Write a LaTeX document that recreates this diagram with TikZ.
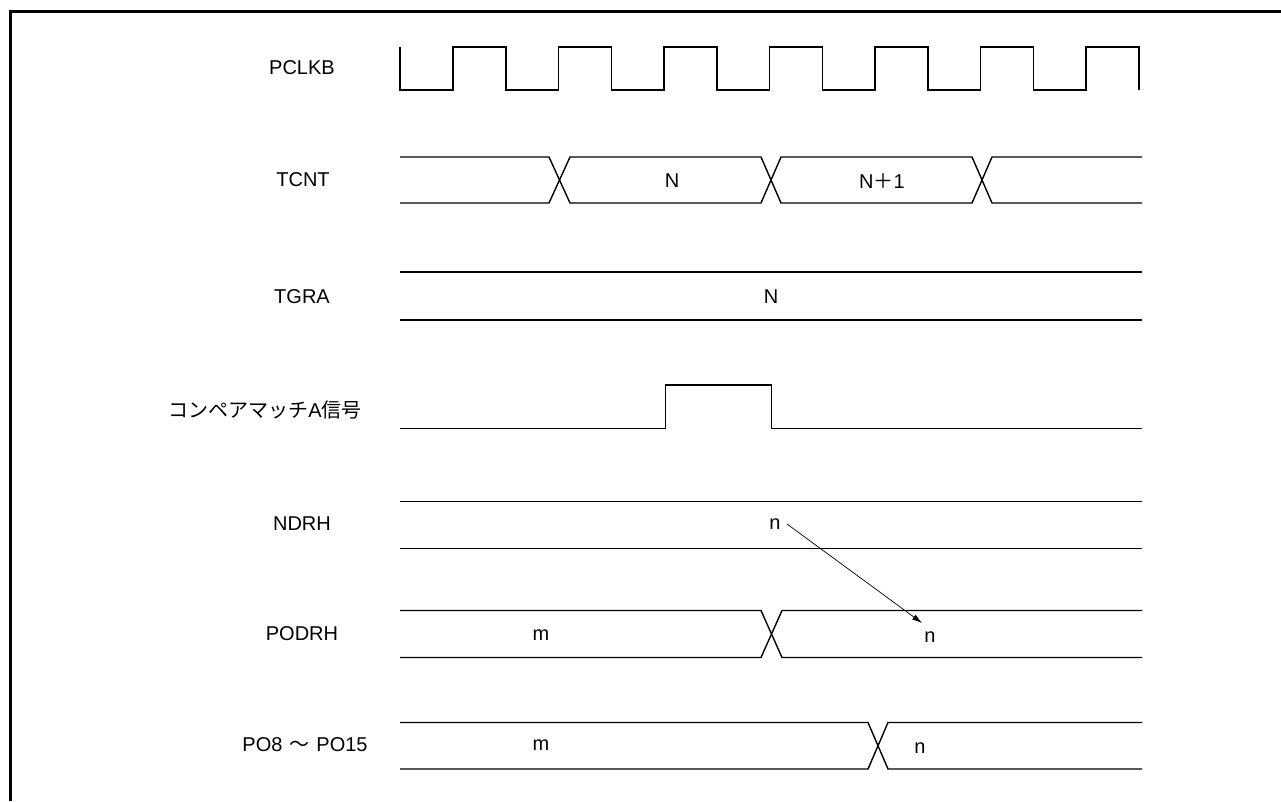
\documentclass[tikz,border=0pt]{standalone}
\usepackage{fontspec}
\setmainfont{Liberation Sans}
\newfontfamily\jp{Noto Sans CJK JP}
\usetikzlibrary{arrows.meta}
\begin{document}
\begin{tikzpicture}[x=1pt,y=-1pt,
  sig/.style={line width=1.4pt, line join=miter},
  frame/.style={line width=3pt},
  lbl/.style={font=\fontsize{20}{22}\selectfont, inner sep=0pt, anchor=center},
  val/.style={font=\fontsize{20}{22}\selectfont, inner sep=0pt, anchor=center},
  conn/.style={line width=0.7pt, -{Latex[length=10pt,width=6pt]}}]
\useasboundingbox (0,0) rectangle (1281,801);
% frame
\draw[frame] (10.5,801) -- (10.5,11.5) -- (1281,11.5);

% signal names
\node[lbl] (lPCLKB) at (302,68) {PCLKB};
\node[lbl] (lTCNT)  at (303,180) {TCNT};
\node[lbl] (lTGRA)  at (302,297) {TGRA};
\node[lbl] (lCMA)   at (265,410) {\jp コンペアマッチ\rmfamily A\jp 信号};
\node[lbl] (lNDRH)  at (302,524) {NDRH};
\node[lbl] (lPODRH) at (302,634) {PODRH};
\node[lbl] (lPO)    at (305,745) {PO8\hspace{0.35em}{\jp ～}\hspace{0.35em}PO15};

% PCLKB
\draw[sig] (400,47) -- (400,90)
  \foreach \k in {0,...,6} {
    -- ({453+\k*105.5},90) -- ({453+\k*105.5},47)
    -- ({506+\k*105.5},47) -- ({506+\k*105.5},90) };

% TCNT
\draw[sig] (400,157) -- (549,157) -- (570,203) -- (761,203) -- (781,157) -- (972,157) -- (992,203) -- (1142,203);
\draw[sig] (400,203) -- (549,203) -- (570,157) -- (761,157) -- (781,203) -- (972,203) -- (992,157) -- (1142,157);
\node[val] (vTN)  at (672,181) {N};
\node[val] (vTN1) at (882,181) {N{\jp ＋}1};

% TGRA
\draw[sig] (400,272) -- (1142,272);
\draw[sig] (400,320) -- (1142,320);
\node[val] (vGN) at (771,297) {N};

% compare match A
\draw[sig] (400,428.5) -- (665.5,428.5) -- (665.5,385) -- (771.5,385) -- (771.5,428.5) -- (1142,428.5);

% NDRH
\draw[sig] (400,501.5) -- (1142,501.5);
\draw[sig] (400,548.5) -- (1142,548.5);
\node[val] (vNn) at (775,524) {n};

% PODRH
\draw[sig] (400,610.5) -- (761,610.5) -- (782,657.5) -- (1142,657.5);
\draw[sig] (400,657.5) -- (761,657.5) -- (782,610.5) -- (1142,610.5);
\node[val] (vPm) at (541,635) {m};
\node[val] (vPn) at (930,637) {n};

% PO8-PO15
\draw[sig] (400,722.5) -- (868,722.5) -- (888,769) -- (1142,769);
\draw[sig] (400,769) -- (868,769) -- (888,722.5) -- (1142,722.5);
\node[val] (vOm) at (541,745) {m};
\node[val] (vOn) at (920,748) {n};

% transfer arrow
\coordinate (aS) at (787,524);
\coordinate (aE) at (922,623);
\draw[conn] (aS) -- (aE);
\end{tikzpicture}
\end{document}
